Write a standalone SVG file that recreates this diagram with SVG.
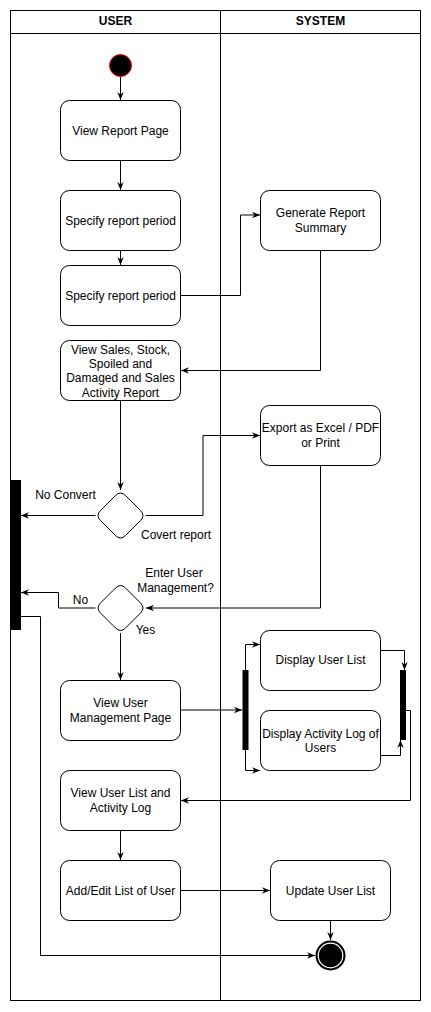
<svg xmlns="http://www.w3.org/2000/svg" width="431" height="1012" viewBox="0 0 431 1012">
<defs>
<style>
.lane{fill:none;stroke:#000;stroke-width:1}
.box{fill:#fff;stroke:#000;stroke-width:1}
.t{font-family:"Liberation Sans",Arial,Helvetica,sans-serif;font-size:12px;fill:#000;text-anchor:middle}
.h{font-family:"Liberation Sans",Arial,Helvetica,sans-serif;font-size:12px;font-weight:bold;fill:#000;text-anchor:middle}
.e{fill:none;stroke:#000;stroke-width:1;marker-end:url(#arr)}
.n{fill:none;stroke:#000;stroke-width:1}
.bar{fill:#000}
</style>
<marker id="arr" viewBox="0 0 10 10" refX="10" refY="5" markerWidth="8" markerHeight="8" markerUnits="userSpaceOnUse" orient="auto">
<path d="M0,1 L10,5 L0,9 L3,5 Z" fill="#000"/>
</marker>
</defs>
<rect width="431" height="1012" fill="#fff"/>
<g id="pool">
<rect class="lane" x="10.5" y="10.5" width="410" height="990"/>
<line class="lane" x1="10.5" y1="33.5" x2="420.5" y2="33.5"/>
<line class="lane" x1="220.5" y1="10.5" x2="220.5" y2="1000.5"/>
<text class="h" x="115.5" y="25">USER</text>
<text class="h" x="320.5" y="25">SYSTEM</text>
</g>
<g id="connectors">
<path class="e" d="M120.5,76.5 V100"/>
<path class="e" d="M120.5,160.5 V190"/>
<path class="e" d="M120.5,250.5 V265"/>
<path class="e" d="M180.5,295.5 H240.5 V215 H260"/>
<path class="e" d="M320.5,250.5 V370.5 H181"/>
<path class="e" d="M120.5,400.5 V490"/>
<path class="e" d="M95.5,515.5 H21"/>
<path class="e" d="M145.5,515.5 H203 V435.5 H260"/>
<path class="e" d="M320.5,465.5 V608 H146"/>
<path class="e" d="M95.5,608 H58.5 V592.5 H21"/>
<path class="e" d="M120.5,633 V680"/>
<path class="e" d="M21,616.5 H40.5 V955.5 H315"/>
<path class="e" d="M180.5,710 H242"/>
<path class="e" d="M245.5,670 V644.5 H260"/>
<path class="e" d="M245.5,750 V770.5 H260"/>
<path class="e" d="M380.5,650.5 H404.5 V670"/>
<path class="e" d="M380.5,755.5 H400.5 V740"/>
<path class="e" d="M406,710.5 H410.5 V800.5 H181"/>
<path class="e" d="M120.5,830.5 V860"/>
<path class="e" d="M180.5,890.5 H270"/>
<path class="e" d="M330.5,920.5 V940"/>
</g>
<g id="start">
<circle cx="120.5" cy="65.5" r="11" fill="#000" stroke="#ff0000" stroke-width="1"/>
</g>
<g id="viewReportPage">
<rect class="box" x="60.5" y="100.5" width="120" height="60" rx="9"/>
<text class="t" x="120.5" y="134.5">View Report Page</text>
</g>
<g id="specifyPeriod1">
<rect class="box" x="60.5" y="190.5" width="120" height="60" rx="9"/>
<text class="t" x="120.5" y="224.5">Specify report period</text>
</g>
<g id="specifyPeriod2">
<rect class="box" x="60.5" y="265.5" width="120" height="60" rx="9"/>
<text class="t" x="120.5" y="299.5">Specify report period</text>
</g>
<g id="generateSummary">
<rect class="box" x="260.5" y="190.5" width="120" height="60" rx="9"/>
<text class="t" x="320.5" y="216.5">Generate Report</text>
<text class="t" x="320.5" y="231.5">Summary</text>
</g>
<g id="viewSales">
<rect class="box" x="60.5" y="340.5" width="120" height="60" rx="9"/>
<text class="t" x="120.5" y="353.5">View Sales, Stock,</text>
<text class="t" x="120.5" y="367.5">Spoiled and</text>
<text class="t" x="120.5" y="382">Damaged and Sales</text>
<text class="t" x="120.5" y="396.5">Activity Report</text>
</g>
<g id="export">
<rect class="box" x="260.5" y="405.5" width="120" height="60" rx="9"/>
<text class="t" x="320.5" y="432">Export as Excel / PDF</text>
<text class="t" x="320.5" y="446.5">or Print</text>
</g>
<g id="decisionConvert">
<path class="box" d="M115.5,495.5 Q120.5,490.5 125.5,495.5 L140.5,510.5 Q145.5,515.5 140.5,520.5 L125.5,535.5 Q120.5,540.5 115.5,535.5 L100.5,520.5 Q95.5,515.5 100.5,510.5 Z"/>
<text class="t" x="65.5" y="499">No Convert</text>
<text class="t" x="176" y="539">Covert report</text>
</g>
<g id="joinBarLeft">
<rect class="bar" x="10" y="480" width="11" height="150"/>
</g>
<g id="decisionUserMgmt">
<path class="box" d="M115.5,588 Q120.5,583 125.5,588 L140.5,603 Q145.5,608 140.5,613 L125.5,628 Q120.5,633 115.5,628 L100.5,613 Q95.5,608 100.5,603 Z"/>
<text class="t" x="174" y="577">Enter User</text>
<text class="t" x="175.5" y="592">Management?</text>
<text class="t" x="80.5" y="604">No</text>
<text class="t" x="145.5" y="634">Yes</text>
</g>
<g id="viewUserMgmt">
<rect class="box" x="60.5" y="680.5" width="120" height="60" rx="9"/>
<text class="t" x="120.5" y="707">View User</text>
<text class="t" x="120.5" y="722">Management Page</text>
</g>
<g id="forkBar">
<rect class="bar" x="242.5" y="670" width="6" height="80"/>
</g>
<g id="displayUserList">
<rect class="box" x="260.5" y="630.5" width="120" height="60" rx="9"/>
<text class="t" x="320.5" y="664">Display User List</text>
</g>
<g id="displayActivityLog">
<rect class="box" x="260.5" y="710.5" width="120" height="60" rx="9"/>
<text class="t" x="320.5" y="737.5">Display Activity Log of</text>
<text class="t" x="320.5" y="752">Users</text>
</g>
<g id="joinBarRight">
<rect class="bar" x="400" y="670" width="6" height="70"/>
</g>
<g id="viewUserList">
<rect class="box" x="60.5" y="770.5" width="120" height="60" rx="9"/>
<text class="t" x="120.5" y="797">View User List and</text>
<text class="t" x="120.5" y="812">Activity Log</text>
</g>
<g id="addEdit">
<rect class="box" x="60.5" y="860.5" width="120" height="60" rx="9"/>
<text class="t" x="120.5" y="894.5">Add/Edit List of User</text>
</g>
<g id="updateUserList">
<rect class="box" x="270.5" y="860.5" width="120" height="60" rx="9"/>
<text class="t" x="330.5" y="894.5">Update User List</text>
</g>
<g id="end">
<circle cx="330.5" cy="955.5" r="15" fill="#000"/>
<circle cx="330.5" cy="955.5" r="12.3" fill="none" stroke="#fff" stroke-width="1.2"/>
</g>
</svg>
